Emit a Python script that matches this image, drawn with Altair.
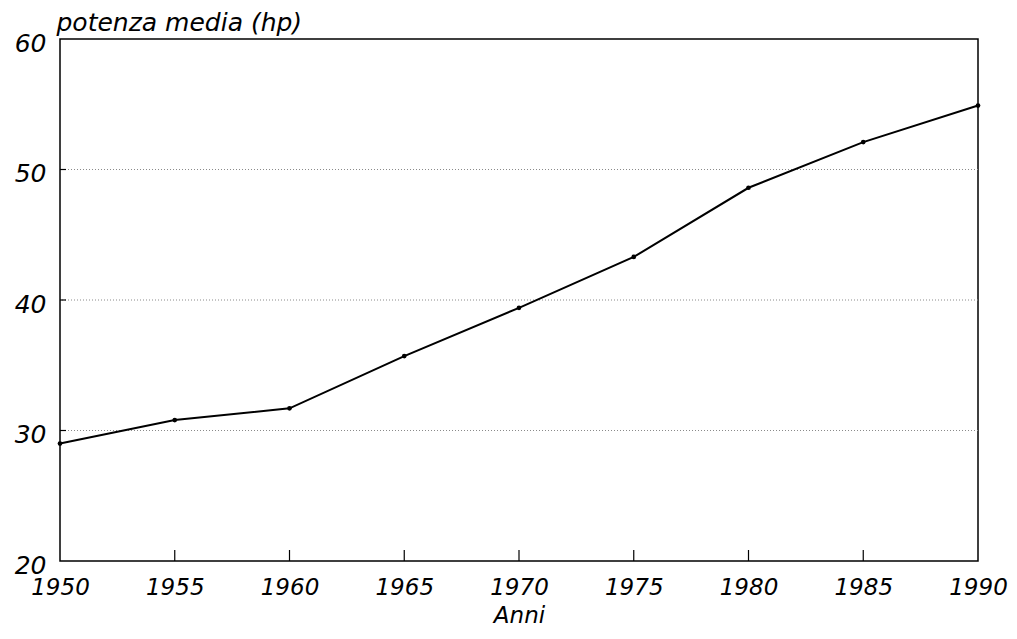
import altair as alt
import pandas as pd

years = [1950, 1955, 1960, 1965, 1970, 1975, 1980, 1985, 1990]
power = [29.0, 30.8, 31.7, 35.7, 39.4, 43.3, 48.6, 52.1, 54.9]
y_ticks = [20, 30, 40, 50, 60]
grid_vals = [30, 40, 50]
inner_x_ticks = [1955, 1960, 1965, 1970, 1975, 1980, 1985]

W, H = 918, 522
FONT = "DejaVu Sans"

df = pd.DataFrame({"anno": years, "potenza": power})
grid_df = pd.DataFrame({"potenza": grid_vals})
xt_df = pd.DataFrame({"anno": inner_x_ticks})

xscale = alt.Scale(domain=[1950, 1990], nice=False, zero=False)
yscale = alt.Scale(domain=[20, 60], nice=False, zero=False)

x_enc = alt.X(
    "anno:Q", scale=xscale,
    axis=alt.Axis(values=years, format="d", title="Anni", grid=False, domain=False,
                  tickSize=0, labelPadding=15, labelFlush=False,
                  labelFont=FONT, labelFontStyle="italic", labelFontSize=23,
                  labelColor="black",
                  titleFont=FONT, titleFontStyle="italic", titleFontWeight="normal",
                  titleFontSize=23, titleColor="black", titlePadding=5),
)
y_enc = alt.Y(
    "potenza:Q", scale=yscale,
    axis=alt.Axis(values=y_ticks, format="d", title="potenza media (hp)", grid=False,
                  domain=False, tickSize=0, labelPadding=14, labelFlush=False,
                  labelOffset=4,
                  labelFont=FONT, labelFontStyle="italic", labelFontSize=25,
                  labelColor="black",
                  titleFont=FONT, titleFontStyle="italic", titleFontWeight="normal",
                  titleFontSize=25, titleColor="black", titleAngle=0,
                  titleAlign="left", titleBaseline="alphabetic", titleX=-4, titleY=-9),
)

grid = alt.Chart(grid_df).mark_rule(color="#8a8a8a", strokeWidth=1, strokeDash=[1, 2]).encode(
    y=y_enc
)
ytick = alt.Chart(grid_df).mark_rule(color="black", strokeWidth=1.2).encode(
    y=y_enc, x=alt.value(0), x2=alt.value(6)
)
xtick = alt.Chart(xt_df).mark_rule(color="black", strokeWidth=1.2).encode(
    x=x_enc, y=alt.value(H), y2=alt.value(H - 11)
)
line = alt.Chart(df).mark_line(color="black", strokeWidth=2).encode(x=x_enc, y=y_enc)
pts = alt.Chart(df).mark_point(filled=True, color="black", size=22, opacity=1).encode(
    x=x_enc, y=y_enc
)

chart = (
    alt.layer(grid, ytick, xtick, line, pts)
    .properties(width=W, height=H, autosize="none",
                padding={"left": 52, "top": 31, "right": 30, "bottom": 70},
                background="white")
    .configure_view(stroke="black", strokeWidth=1.5)
)

chart.save("out.html", embed_options={"renderer": "svg", "actions": False})
